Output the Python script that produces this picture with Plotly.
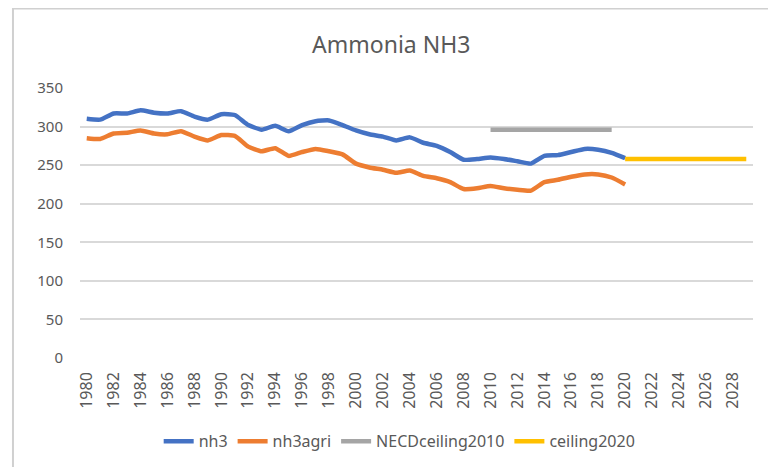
import plotly.graph_objects as go

# Years shown on the category axis
years = list(range(1980, 2030))

# Emissions (kt), 1980-2020
nh3_years = list(range(1980, 2021))
nh3 = [310, 309, 317, 317, 321, 318, 317, 320, 313, 309,
       316, 315, 302, 296, 301, 294, 302, 307, 308, 302,
       295, 290, 287, 282, 286, 279, 275, 267, 257, 258,
       260, 258, 255, 252, 262, 263, 267, 271, 270, 266,
       259]
nh3agri = [285, 284, 291, 292, 295, 291, 290, 294, 287, 282,
           289, 288, 274, 268, 272, 262, 267, 271, 268, 264,
           252, 247, 244, 240, 243, 236, 233, 228, 219, 220,
           223, 220, 218, 217, 228, 231, 235, 238, 238, 234,
           225]

# Ceilings
necd_years = [2010, 2011, 2012, 2013, 2014, 2015, 2016, 2017, 2018, 2019]
necd = [296, 296, 296, 296, 296, 296, 296, 296, 296, 296]
c2020_years = [2020, 2021, 2022, 2023, 2024, 2025, 2026, 2027, 2028, 2029]
c2020 = [258, 258, 258, 258, 258, 258, 258, 258, 258, 258]

y_ticks = [0, 50, 100, 150, 200, 250, 300, 350]
x_ticks = list(range(1980, 2030, 2))

FONT = "Noto Sans"
TXT = "#595959"

fig = go.Figure()
fig.add_trace(go.Scatter(x=nh3_years, y=nh3, name="nh3", mode="lines",
                         line=dict(color="#4472C4", width=4.5, shape="spline", smoothing=0.5)))
fig.add_trace(go.Scatter(x=nh3_years, y=nh3agri, name="nh3agri", mode="lines",
                         line=dict(color="#ED7D31", width=4.5, shape="spline", smoothing=0.5)))
fig.add_trace(go.Scatter(x=necd_years, y=necd, name="NECDceiling2010", mode="lines",
                         line=dict(color="#A5A5A5", width=4.5)))
fig.add_trace(go.Scatter(x=c2020_years, y=c2020, name="ceiling2020", mode="lines",
                         line=dict(color="#FFC000", width=4.5)))

# page body adds an 8px margin, so the figure is 8px smaller than the window
fig.update_layout(
    width=768, height=459,
    margin=dict(l=72, r=23, t=80, b=109),
    paper_bgcolor="white", plot_bgcolor="white",
    font=dict(family=FONT, color=TXT, size=14),
    title=dict(text="Ammonia NH3", x=0.499, xanchor="center", y=0.919, yanchor="middle",
               font=dict(family=FONT, size=23, color=TXT)),
    showlegend=True,
    legend=dict(orientation="h", xref="container", yref="container",
                x=0.51, xanchor="center", y=0.056, yanchor="middle",
                font=dict(size=16, color=TXT), traceorder="normal"),
    shapes=[dict(type="rect", xref="paper", yref="paper",
                 x0=-0.0996, x1=1.028, y0=-0.45, y1=1.294,
                 line=dict(color="#d0d0d0", width=2), layer="below")],
)

fig.update_xaxes(range=[1979.5, 2029.5], tickvals=x_ticks, ticktext=[str(t) for t in x_ticks],
                 tickangle=-90, showgrid=False, zeroline=False, showline=False,
                 ticks="", tickfont=dict(size=16, color=TXT), ticklabelstandoff=10)
fig.update_yaxes(range=[0, 350], tickvals=y_ticks, showgrid=True, gridcolor="#d9d9d9",
                 gridwidth=1.5, zeroline=False, showline=False, ticks="",
                 tickfont=dict(size=15, color=TXT), ticklabelstandoff=16)

fig.write_html("out.html")
